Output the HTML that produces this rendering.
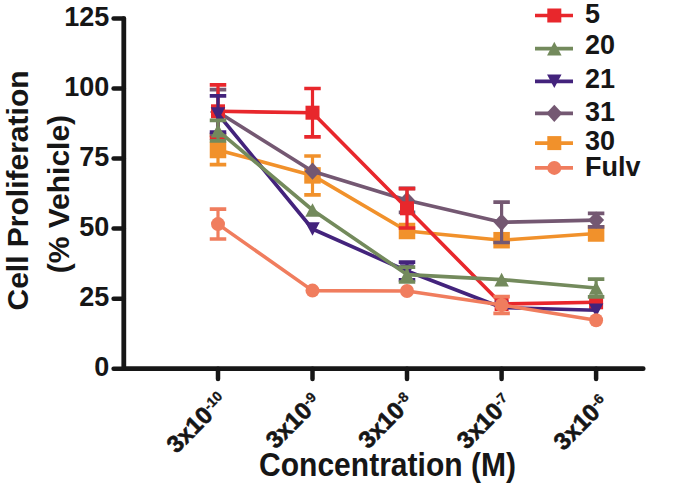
<!DOCTYPE html>
<html><head><meta charset="utf-8"><style>
html,body{margin:0;padding:0;background:#fff;width:700px;height:487px;overflow:hidden}
svg{display:block}
text{font-family:"Liberation Sans",sans-serif;font-weight:bold;fill:#161616}
.tk{font-size:27px}
.lg{font-size:27px}
.xl{font-size:24px;stroke:#161616;stroke-width:0.6px}
.sup{font-size:14px;stroke-width:0.3px}
.ti{font-size:30px}
.xt{font-size:33px}
</style></head><body>
<svg width="700" height="487" viewBox="0 0 700 487">
<path d="M123.8 18.6V368.7H643.2" stroke="#161616" stroke-width="4.8" fill="none" stroke-linecap="round" stroke-linejoin="miter"/>
<path d="M113.6 368.70H123.8" stroke="#161616" stroke-width="4.5" stroke-linecap="round"/>
<text x="109.4" y="376.20" text-anchor="end" class="tk">0</text>
<path d="M113.6 298.64H123.8" stroke="#161616" stroke-width="4.5" stroke-linecap="round"/>
<text x="109.4" y="306.14" text-anchor="end" class="tk">25</text>
<path d="M113.6 228.58H123.8" stroke="#161616" stroke-width="4.5" stroke-linecap="round"/>
<text x="109.4" y="236.08" text-anchor="end" class="tk">50</text>
<path d="M113.6 158.52H123.8" stroke="#161616" stroke-width="4.5" stroke-linecap="round"/>
<text x="109.4" y="166.02" text-anchor="end" class="tk">75</text>
<path d="M113.6 88.46H123.8" stroke="#161616" stroke-width="4.5" stroke-linecap="round"/>
<text x="109.4" y="95.96" text-anchor="end" class="tk">100</text>
<path d="M113.6 18.40H123.8" stroke="#161616" stroke-width="4.5" stroke-linecap="round"/>
<text x="109.4" y="25.90" text-anchor="end" class="tk">125</text>
<path d="M218.00 368.7V379" stroke="#161616" stroke-width="4.5" stroke-linecap="round"/>
<path d="M312.50 368.7V379" stroke="#161616" stroke-width="4.5" stroke-linecap="round"/>
<path d="M407.00 368.7V379" stroke="#161616" stroke-width="4.5" stroke-linecap="round"/>
<path d="M501.60 368.7V379" stroke="#161616" stroke-width="4.5" stroke-linecap="round"/>
<path d="M596.10 368.7V379" stroke="#161616" stroke-width="4.5" stroke-linecap="round"/>
<text transform="translate(228.50 402.30) rotate(-45)" text-anchor="end" class="xl">3x10<tspan class="sup" dy="-7.5">-10</tspan></text>
<text transform="translate(322.20 403.30) rotate(-45)" text-anchor="end" class="xl">3x10<tspan class="sup" dy="-7.5">-9</tspan></text>
<text transform="translate(414.70 403.10) rotate(-45)" text-anchor="end" class="xl">3x10<tspan class="sup" dy="-7.5">-8</tspan></text>
<text transform="translate(513.30 403.70) rotate(-45)" text-anchor="end" class="xl">3x10<tspan class="sup" dy="-7.5">-7</tspan></text>
<text transform="translate(610.10 404.90) rotate(-45)" text-anchor="end" class="xl">3x10<tspan class="sup" dy="-7.5">-6</tspan></text>
<text transform="translate(28 190.5) rotate(-90)" text-anchor="middle" class="ti">Cell Proliferation</text>
<text transform="translate(68.8 194.1) rotate(-90)" text-anchor="middle" class="ti">(% Vehicle)</text>
<text x="387.5" y="475.5" text-anchor="middle" class="xt" textLength="257" lengthAdjust="spacingAndGlyphs">Concentration (M)</text>
<polyline points="218.00,150.00 312.50,175.40 407.00,231.00 501.60,240.20 596.10,233.50" fill="none" stroke="#f1912b" stroke-width="3.6" stroke-linejoin="round"/>
<path d="M218.00 135.30V164.70" stroke="#f1912b" stroke-width="3.2" fill="none"/><path d="M209.75 135.30H226.25M209.75 164.70H226.25" stroke="#f1912b" stroke-width="3.7" fill="none"/>
<path d="M312.50 156.00V194.80" stroke="#f1912b" stroke-width="3.2" fill="none"/><path d="M304.25 156.00H320.75M304.25 194.80H320.75" stroke="#f1912b" stroke-width="3.7" fill="none"/>
<rect x="209.75" y="141.75" width="16.5" height="16.5" fill="#f1912b"/>
<rect x="304.25" y="167.15" width="16.5" height="16.5" fill="#f1912b"/>
<rect x="398.75" y="222.75" width="16.5" height="16.5" fill="#f1912b"/>
<rect x="493.35" y="231.95" width="16.5" height="16.5" fill="#f1912b"/>
<rect x="587.85" y="225.25" width="16.5" height="16.5" fill="#f1912b"/>
<polyline points="218.00,112.00 312.50,171.20 407.00,200.30 501.60,222.30 596.10,220.10" fill="none" stroke="#745872" stroke-width="3.6" stroke-linejoin="round"/>
<path d="M218.00 89.70V134.30" stroke="#745872" stroke-width="3.2" fill="none"/><path d="M209.75 89.70H226.25M209.75 134.30H226.25" stroke="#745872" stroke-width="3.7" fill="none"/>
<path d="M407.00 188.30V212.30" stroke="#745872" stroke-width="3.2" fill="none"/><path d="M398.75 188.30H415.25M398.75 212.30H415.25" stroke="#745872" stroke-width="3.7" fill="none"/>
<path d="M501.60 202.10V242.50" stroke="#745872" stroke-width="3.2" fill="none"/><path d="M493.35 202.10H509.85M493.35 242.50H509.85" stroke="#745872" stroke-width="3.7" fill="none"/>
<path d="M596.10 213.40V226.80" stroke="#745872" stroke-width="3.2" fill="none"/><path d="M587.85 213.40H604.35M587.85 226.80H604.35" stroke="#745872" stroke-width="3.7" fill="none"/>
<path d="M218.00 103.40L226.00 112.00L218.00 120.60L210.00 112.00Z" fill="#745872"/>
<path d="M312.50 162.60L320.50 171.20L312.50 179.80L304.50 171.20Z" fill="#745872"/>
<path d="M407.00 191.70L415.00 200.30L407.00 208.90L399.00 200.30Z" fill="#745872"/>
<path d="M501.60 213.70L509.60 222.30L501.60 230.90L493.60 222.30Z" fill="#745872"/>
<path d="M596.10 211.50L604.10 220.10L596.10 228.70L588.10 220.10Z" fill="#745872"/>
<polyline points="218.00,111.30 312.50,112.70 407.00,208.30 501.60,304.00 596.10,302.30" fill="none" stroke="#e8272c" stroke-width="3.6" stroke-linejoin="round"/>
<path d="M218.00 84.80V137.80" stroke="#e8272c" stroke-width="3.2" fill="none"/><path d="M209.75 84.80H226.25M209.75 137.80H226.25" stroke="#e8272c" stroke-width="3.7" fill="none"/>
<path d="M312.50 88.50V136.90" stroke="#e8272c" stroke-width="3.2" fill="none"/><path d="M304.25 88.50H320.75M304.25 136.90H320.75" stroke="#e8272c" stroke-width="3.7" fill="none"/>
<path d="M407.00 188.60V228.00" stroke="#e8272c" stroke-width="3.2" fill="none"/><path d="M398.75 188.60H415.25M398.75 228.00H415.25" stroke="#e8272c" stroke-width="3.7" fill="none"/>
<rect x="211.00" y="104.30" width="14" height="14" fill="#e8272c"/>
<rect x="305.50" y="105.70" width="14" height="14" fill="#e8272c"/>
<rect x="400.00" y="201.30" width="14" height="14" fill="#e8272c"/>
<rect x="494.60" y="297.00" width="14" height="14" fill="#e8272c"/>
<rect x="589.10" y="295.30" width="14" height="14" fill="#e8272c"/>
<polyline points="218.00,114.00 312.50,229.00 407.00,271.00 501.60,307.50 596.10,310.30" fill="none" stroke="#43237c" stroke-width="3.6" stroke-linejoin="round"/>
<path d="M218.00 95.90V132.10" stroke="#43237c" stroke-width="3.2" fill="none"/><path d="M209.75 95.90H226.25M209.75 132.10H226.25" stroke="#43237c" stroke-width="3.7" fill="none"/>
<path d="M407.00 262.20V279.80" stroke="#43237c" stroke-width="3.2" fill="none"/><path d="M398.75 262.20H415.25M398.75 279.80H415.25" stroke="#43237c" stroke-width="3.7" fill="none"/>
<path d="M218.00 120.80L225.25 107.20L210.75 107.20Z" fill="#43237c"/>
<path d="M312.50 235.80L319.75 222.20L305.25 222.20Z" fill="#43237c"/>
<path d="M407.00 277.80L414.25 264.20L399.75 264.20Z" fill="#43237c"/>
<path d="M501.60 314.30L508.85 300.70L494.35 300.70Z" fill="#43237c"/>
<path d="M596.10 317.10L603.35 303.50L588.85 303.50Z" fill="#43237c"/>
<polyline points="218.00,130.60 312.50,210.00 407.00,274.60 501.60,279.60 596.10,288.00" fill="none" stroke="#738a5c" stroke-width="3.6" stroke-linejoin="round"/>
<path d="M218.00 120.40V140.80" stroke="#738a5c" stroke-width="3.2" fill="none"/><path d="M209.75 120.40H226.25M209.75 140.80H226.25" stroke="#738a5c" stroke-width="3.7" fill="none"/>
<path d="M407.00 267.20V282.00" stroke="#738a5c" stroke-width="3.2" fill="none"/><path d="M398.75 267.20H415.25M398.75 282.00H415.25" stroke="#738a5c" stroke-width="3.7" fill="none"/>
<path d="M596.10 279.20V296.80" stroke="#738a5c" stroke-width="3.2" fill="none"/><path d="M587.85 279.20H604.35M587.85 296.80H604.35" stroke="#738a5c" stroke-width="3.7" fill="none"/>
<path d="M218.00 123.80L225.25 137.40L210.75 137.40Z" fill="#738a5c"/>
<path d="M312.50 203.20L319.75 216.80L305.25 216.80Z" fill="#738a5c"/>
<path d="M407.00 267.80L414.25 281.40L399.75 281.40Z" fill="#738a5c"/>
<path d="M501.60 272.80L508.85 286.40L494.35 286.40Z" fill="#738a5c"/>
<path d="M596.10 281.20L603.35 294.80L588.85 294.80Z" fill="#738a5c"/>
<polyline points="218.00,224.10 312.50,290.60 407.00,291.00 501.60,305.00 596.10,320.20" fill="none" stroke="#f07d5e" stroke-width="3.6" stroke-linejoin="round"/>
<path d="M218.00 209.20V239.00" stroke="#f07d5e" stroke-width="3.2" fill="none"/><path d="M209.75 209.20H226.25M209.75 239.00H226.25" stroke="#f07d5e" stroke-width="3.7" fill="none"/>
<path d="M501.60 296.65V313.35" stroke="#f07d5e" stroke-width="3.2" fill="none"/><path d="M493.35 296.65H509.85M493.35 313.35H509.85" stroke="#f07d5e" stroke-width="3.7" fill="none"/>
<circle cx="218.00" cy="224.10" r="7" fill="#f07d5e"/>
<circle cx="312.50" cy="290.60" r="7" fill="#f07d5e"/>
<circle cx="407.00" cy="291.00" r="7" fill="#f07d5e"/>
<circle cx="501.60" cy="305.00" r="7" fill="#f07d5e"/>
<circle cx="596.10" cy="320.20" r="7" fill="#f07d5e"/>
<path d="M535 15.5H573" stroke="#e8272c" stroke-width="3.7"/>
<rect x="547.30" y="8.50" width="14" height="14" fill="#e8272c"/>
<text x="585" y="22.6" class="lg">5</text>
<path d="M535 48.6H573" stroke="#738a5c" stroke-width="3.7"/>
<path d="M554.30 41.80L561.55 55.40L547.05 55.40Z" fill="#738a5c"/>
<text x="585" y="54.4" class="lg">20</text>
<path d="M535 81.3H573" stroke="#43237c" stroke-width="3.7"/>
<path d="M554.30 88.10L561.55 74.50L547.05 74.50Z" fill="#43237c"/>
<text x="585" y="88.4" class="lg">21</text>
<path d="M535 113.3H573" stroke="#745872" stroke-width="3.7"/>
<path d="M554.30 104.70L562.30 113.30L554.30 121.90L546.30 113.30Z" fill="#745872"/>
<text x="585" y="121.3" class="lg">31</text>
<path d="M535 143.1H573" stroke="#f1912b" stroke-width="3.7"/>
<rect x="547.30" y="136.10" width="14" height="14" fill="#f1912b"/>
<text x="585" y="149.8" class="lg">30</text>
<path d="M535 167.9H573" stroke="#f07d5e" stroke-width="3.7"/>
<circle cx="554.30" cy="167.90" r="7" fill="#f07d5e"/>
<text x="585" y="176.3" class="lg">Fulv</text>
</svg>
</body></html>
